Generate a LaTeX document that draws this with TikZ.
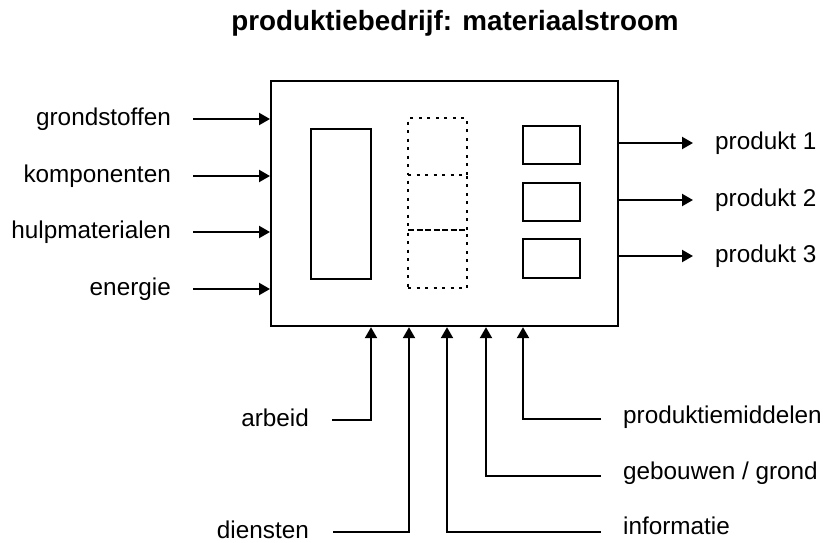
\documentclass[tikz,border=0pt]{standalone}
\usepackage{fontspec}
\setmainfont{Liberation Sans}
\usetikzlibrary{arrows.meta}
\begin{document}
\begin{tikzpicture}[x=1pt,y=-1pt,
  lbl/.style={font=\fontsize{24.3}{29}\selectfont, inner sep=0pt},
  conn/.style={line width=2.2pt, -{Triangle[length=11pt,width=12pt]}},
  boxline/.style={draw, line width=2.2pt},
  dotbox/.style={draw, line width=2.4pt, dash pattern=on 3pt off 5.5pt}]
\useasboundingbox (0,0) rectangle (823,542);
% title
\node[font=\fontsize{27.8}{33}\selectfont\bfseries, inner sep=0pt, anchor=base] (title) at (455,30) {produktiebedrijf: materiaalstroom};
% main box
\node[boxline, minimum width=347pt, minimum height=245pt, anchor=north west, inner sep=0pt] (main) at (270,80) {};
% inner boxes
\node[boxline, minimum width=60pt, minimum height=150pt, anchor=north west, inner sep=0pt] (store) at (310,128) {};
\node[dotbox, minimum width=59pt, minimum height=57pt, anchor=north west, inner sep=0pt] (d1) at (407,117) {};
\node[dotbox, minimum width=59pt, minimum height=55pt, anchor=north west, inner sep=0pt] (d2) at (407,174) {};
\node[dotbox, minimum width=59pt, minimum height=58pt, anchor=north west, inner sep=0pt] (d3) at (407,229) {};
\node[boxline, minimum width=57pt, minimum height=38pt, anchor=north west, inner sep=0pt] (p1box) at (522,125) {};
\node[boxline, minimum width=57pt, minimum height=38pt, anchor=north west, inner sep=0pt] (p2box) at (522,182) {};
\node[boxline, minimum width=57pt, minimum height=39pt, anchor=north west, inner sep=0pt] (p3box) at (522,238) {};
% left inputs
\node[lbl, anchor=base east] (grond) at (171,125) {grondstoffen};
\node[lbl, anchor=base east] (komp) at (171,182) {komponenten};
\node[lbl, anchor=base east] (hulp) at (171,238) {hulpmaterialen};
\node[lbl, anchor=base east] (ener) at (171,295) {energie};
\coordinate (g0) at (193,119);
\coordinate (k0) at (193,176);
\coordinate (h0) at (193,232);
\coordinate (e0) at (193,289);
\draw[conn] (g0) -- (g0 -| main.west);
\draw[conn] (k0) -- (k0 -| main.west);
\draw[conn] (h0) -- (h0 -| main.west);
\draw[conn] (e0) -- (e0 -| main.west);
% right outputs
\node[lbl, anchor=base west] (prod1) at (715,149) {produkt 1};
\node[lbl, anchor=base west] (prod2) at (715,206) {produkt 2};
\node[lbl, anchor=base west] (prod3) at (715,262) {produkt 3};
\coordinate (q1) at (693,143);
\coordinate (q2) at (693,200);
\coordinate (q3) at (693,256);
\draw[conn] (q1 -| main.east) -- (q1);
\draw[conn] (q2 -| main.east) -- (q2);
\draw[conn] (q3 -| main.east) -- (q3);
% bottom inputs
\node[lbl, anchor=base east] (arbeid) at (309,426) {arbeid};
\node[lbl, anchor=base east] (dienst) at (309,538) {diensten};
\node[lbl, anchor=base west] (pmid) at (623,423) {produktiemiddelen};
\node[lbl, anchor=base west] (gebouw) at (623,479) {gebouwen / grond};
\node[lbl, anchor=base west] (info) at (623,534) {informatie};
\coordinate (a0) at (332,420);
\coordinate (s0) at (333,532);
\coordinate (m0) at (601,419);
\coordinate (w0) at (601,476);
\coordinate (i0) at (601,532);
\coordinate (ba) at (371,0);
\coordinate (bs) at (409,0);
\coordinate (bi) at (447,0);
\coordinate (bw) at (486,0);
\coordinate (bm) at (523,0);
\draw[conn] (a0) -| (ba |- main.south);
\draw[conn] (s0) -| (bs |- main.south);
\draw[conn] (i0) -| (bi |- main.south);
\draw[conn] (w0) -| (bw |- main.south);
\draw[conn] (m0) -| (bm |- main.south);
\end{tikzpicture}
\end{document}
